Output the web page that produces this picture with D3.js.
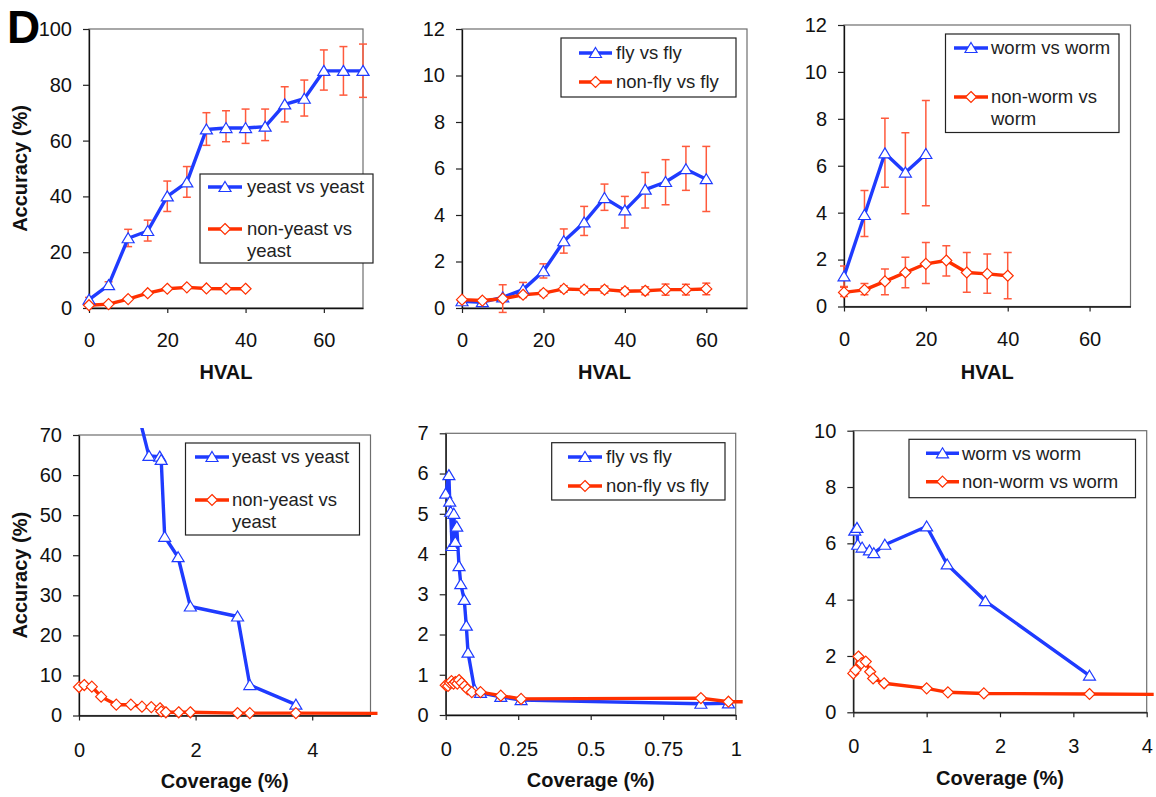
<!DOCTYPE html>
<html>
<head>
<meta charset="utf-8">
<script src="https://cdn.jsdelivr.net/npm/d3@7"></script>
<style>
  body { margin: 0; background: #fff; }
  svg { display: block; font-family: Arial, "Liberation Sans", sans-serif; }
</style>
</head>
<body>
<div id="chart"></div>
<script>
// ---- data: accuracy vs HVAL ----
const hvalX = [0, 5, 10, 15, 20, 25, 30, 35, 40, 45, 50, 55, 60, 65, 70];

const yeastSelf   = [3, 8.2, 25, 27.6, 40, 45, 64, 64.5, 64.5, 65, 73, 75, 85, 85, 85];
const yeastSelfLo = [2.2, 7.4, 22, 24, 34.6, 39.7, 58.3, 59.6, 59, 60, 66.7, 68.8, 78.1, 76.3, 75.5];
const yeastSelfHi = [3.8, 9.4, 28.2, 31.5, 45.5, 50.7, 70, 70.7, 71.3, 71.3, 79.3, 81.7, 92.5, 93.7, 94.6];
const nonYeast    = [1, 1.4, 3.2, 5.3, 6.9, 7.4, 7, 6.9, 6.9];

const flySelf   = [0.29, 0.25, 0.46, 0.79, 1.58, 2.87, 3.68, 4.73, 4.2, 5.09, 5.42, 5.97, 5.54];
const flySelfLo = [0.2, 0.15, -0.19, 0.46, 1.29, 2.36, 3.12, 4.2, 3.44, 4.3, 4.44, 5.06, 4.15];
const flySelfHi = [0.38, 0.35, 1.0, 1.1, 1.9, 3.4, 4.37, 5.33, 4.8, 5.83, 6.38, 6.95, 6.95];
const nonFly    = [0.36, 0.32, 0.4, 0.57, 0.64, 0.82, 0.79, 0.79, 0.72, 0.74, 0.79, 0.79, 0.82];
const nonFlyLo  = [0.3, 0.27, 0.3, 0.45, 0.52, 0.68, 0.65, 0.64, 0.58, 0.57, 0.55, 0.56, 0.57];
const nonFlyHi  = [0.42, 0.37, 0.5, 0.69, 0.76, 0.96, 0.93, 0.94, 0.86, 0.91, 1.03, 1.02, 1.07];

const wormSelf    = [1.28, 3.9, 6.53, 5.71, 6.5];
const wormSelfLo  = [0.85, 2.98, 5.08, 3.95, 4.29];
const wormSelfHi  = [1.73, 4.94, 8.02, 7.41, 8.78];
const nonWorm     = [0.6, 0.71, 1.07, 1.45, 1.82, 1.96, 1.45, 1.39, 1.31];
const nonWormLo   = [0.43, 0.5, 0.5, 0.8, 0.98, 1.3, 0.61, 0.57, 0.33];
const nonWormHi   = [0.82, 0.98, 1.6, 2.1, 2.73, 2.59, 2.3, 2.24, 2.3];

// ---- data: accuracy vs coverage ----
const yeastCovX   = [0.8, 0.9, 1.2, 1.385, 1.41, 1.47, 1.70, 1.91, 2.72, 2.93, 3.72];
const yeastCovY   = [85, 82, 64.8, 64.6, 63.8, 44.6, 39.5, 27.2, 24.7, 7.6, 2.7];
const nonYeastCovX = [0, 0.09, 0.22, 0.38, 0.64, 0.89, 1.08, 1.24, 1.39, 1.41, 1.49, 1.71, 1.91, 2.72, 2.93, 3.72, 6];
const nonYeastCovY = [7.1, 7.6, 7.2, 4.7, 2.7, 2.7, 2.2, 2.1, 1.8, 1.0, 0.8, 0.8, 0.8, 0.6, 0.6, 0.6, 0.5];

const flyCovX   = [0.0, 0.011, 0.014, 0.017, 0.022, 0.028, 0.033, 0.038, 0.046, 0.052, 0.064, 0.071, 0.077, 0.1, 0.12, 0.19, 0.26, 0.88, 0.975];
const flyCovY   = [5.5, 5.96, 5.3, 5.05, 4.2, 5.0, 4.3, 4.68, 3.7, 3.25, 2.86, 2.22, 1.55, 0.62, 0.55, 0.45, 0.37, 0.28, 0.29];
const nonFlyCovX = [0.0, 0.008, 0.015, 0.02, 0.027, 0.033, 0.04, 0.046, 0.055, 0.065, 0.075, 0.09, 0.12, 0.19, 0.26, 0.88, 0.975, 1.2];
const nonFlyCovY = [0.74, 0.72, 0.8, 0.84, 0.78, 0.82, 0.78, 0.87, 0.8, 0.72, 0.64, 0.57, 0.57, 0.48, 0.4, 0.42, 0.33, 0.32];

const wormCovX   = [0.02, 0.05, 0.06, 0.12, 0.22, 0.28, 0.43, 1.0, 1.28, 1.8, 3.22];
const wormCovY   = [6.45, 6.55, 5.95, 5.85, 5.75, 5.65, 5.95, 6.6, 5.25, 3.95, 1.3];
const nonWormCovX = [0, 0.03, 0.07, 0.11, 0.17, 0.23, 0.27, 0.42, 1.0, 1.29, 1.78, 3.22, 4.6];
const nonWormCovY = [1.38, 1.5, 1.98, 1.74, 1.8, 1.44, 1.2, 1.03, 0.85, 0.71, 0.67, 0.65, 0.63];

// ---- style ----
const BLUE = "#1f3bff";
const RED = "#ff3000";
const ERR = "#ff5a3c";

const W = 1156, H = 797;
const svg = d3.select("#chart").append("svg")
  .attr("width", W).attr("height", H)
  .attr("viewBox", `0 0 ${W} ${H}`);

const zip = (xs, ys, lo, hi) => xs.slice(0, ys.length).map((x, i) => ({
  x, y: ys[i], lo: lo ? lo[i] : null, hi: hi ? hi[i] : null
}));

const triPath = "M0,-5.5L6,4.5L-6,4.5Z";
const diaPath = "M0,-5.5L5.5,0L0,5.5L-5.5,0Z";

const panels = [
  { box: [89, 363, 29, 308], xd: [0, 70], xt: [0, 20, 40, 60], yd: [0, 100], yt: d3.range(0, 101, 20),
    yTitle: true, xTitle: "HVAL", xLabelOff: 25, xTitleY: 379,
    series: [zip(hvalX, yeastSelf, yeastSelfLo, yeastSelfHi), zip(hvalX, nonYeast)],
    legend: { box: [200, 373, 174, 263], lx: [208, 242], tx: 247,
      items: [{ y: 187, lines: ["yeast vs yeast"] }, { y: 229, lines: ["non-yeast vs", "yeast"] }] } },
  { box: [462, 747, 29, 308], xd: [0, 70], xt: [0, 20, 40, 60], yd: [0, 12], yt: d3.range(0, 13, 2),
    xTitle: "HVAL", xLabelOff: 25, xTitleY: 379,
    series: [zip(hvalX, flySelf, flySelfLo, flySelfHi), zip(hvalX, nonFly, nonFlyLo, nonFlyHi)],
    legend: { box: [561, 736, 38, 97], lx: [579, 612], tx: 616,
      items: [{ y: 53, lines: ["fly vs fly"] }, { y: 82, lines: ["non-fly vs fly"] }] } },
  { box: [844, 1130.5, 25, 306.5], xd: [0, 70], xt: [0, 20, 40, 60], yd: [0, 12], yt: d3.range(0, 13, 2),
    xTitle: "HVAL", xLabelOff: 25, xTitleY: 379,
    series: [zip(hvalX, wormSelf, wormSelfLo, wormSelfHi), zip(hvalX, nonWorm, nonWormLo, nonWormHi)],
    legend: { box: [945.5, 1119, 34, 132.5], lx: [954, 988], tx: 991,
      items: [{ y: 48, lines: ["worm vs worm"] }, { y: 97, lines: ["non-worm vs", "worm"] }] } },
  { box: [79, 370.5, 435, 715.5], xd: [0, 5], xt: [0, 2, 4], yd: [0, 70], yt: d3.range(0, 71, 10),
    yTitle: true, xTitle: "Coverage (%)", xLabelOff: 27, xTitleY: 788,
    series: [zip(yeastCovX, yeastCovY), zip(nonYeastCovX, nonYeastCovY)],
    legend: { box: [185.5, 359.5, 443, 535], lx: [195, 229], tx: 232,
      items: [{ y: 457, lines: ["yeast vs yeast"] }, { y: 500, lines: ["non-yeast vs", "yeast"] }] } },
  { box: [445.7, 735.7, 433.3, 715], xd: [0, 1], xt: [0, 0.25, 0.5, 0.75, 1], yd: [0, 7], yt: d3.range(0, 8, 1),
    xTitle: "Coverage (%)", xLabelOff: 27, xTitleY: 787,
    series: [zip(flyCovX, flyCovY), zip(nonFlyCovX, nonFlyCovY)],
    legend: { box: [551.7, 725, 442.7, 500], lx: [568, 602], tx: 606,
      items: [{ y: 457, lines: ["fly vs fly"] }, { y: 486, lines: ["non-fly vs fly"] }] } },
  { box: [853.3, 1146.7, 430.7, 712.3], xd: [0, 4], xt: [0, 1, 2, 3, 4], yd: [0, 10], yt: d3.range(0, 11, 2),
    xTitle: "Coverage (%)", xLabelOff: 27, xTitleY: 785,
    series: [zip(wormCovX, wormCovY), zip(nonWormCovX, nonWormCovY)],
    legend: { box: [909, 1135.5, 439.3, 497.7], lx: [926, 959], tx: 962,
      items: [{ y: 453.3, lines: ["worm vs worm"] }, { y: 481.7, lines: ["non-worm vs worm"] }] } }
];

const colors = [BLUE, RED];
const shapes = [triPath, diaPath];

panels.forEach((p, pi) => {
  const [l, r, t, b] = p.box;
  const x = d3.scaleLinear().domain(p.xd).range([l, r]);
  const y = d3.scaleLinear().domain(p.yd).range([b, t]);
  const g = svg.append("g");

  // frame
  g.append("rect").attr("x", l).attr("y", t).attr("width", r - l).attr("height", b - t)
    .attr("fill", "none").attr("stroke", "#6e6e6e").attr("stroke-width", 1.2);

  // axes
  const yAxis = g.append("g").attr("transform", `translate(${l},0)`)
    .call(d3.axisLeft(y).tickValues(p.yt).tickSize(6).tickSizeOuter(0).tickPadding(11).tickFormat(d => String(d)));
  const xAxis = g.append("g").attr("transform", `translate(0,${b})`)
    .call(d3.axisBottom(x).tickValues(p.xt).tickSize(5).tickSizeOuter(0).tickPadding(p.xLabelOff - 5).tickFormat(d => String(d)));
  [yAxis, xAxis].forEach(a => {
    a.selectAll("text").style("font-size", "20px").attr("fill", "#111").style("font-family", "Arial, 'Liberation Sans', sans-serif");
    a.selectAll("line").attr("stroke", "#222").attr("stroke-width", 1.2);
    a.select(".domain").attr("stroke", "#111").attr("stroke-width", 1.3);
  });

  // titles
  g.append("text").attr("x", (l + r) / 2).attr("y", p.xTitleY).attr("text-anchor", "middle")
    .style("font-size", "20px").style("font-weight", "bold").attr("fill", "#111").text(p.xTitle);
  if (p.yTitle) {
    g.append("text").attr("transform", `translate(27,${(t + b) / 2}) rotate(-90)`)
      .attr("text-anchor", "middle").style("font-size", "20px").style("font-weight", "bold")
      .attr("fill", "#111").text("Accuracy (%)");
  }

  // clip a bit outside plot area (lines run past the frame like the original)
  const clipId = "clip" + pi;
  svg.append("clipPath").attr("id", clipId).append("rect")
    .attr("x", l - 7).attr("y", t - 7).attr("width", r - l + 14).attr("height", b - t + 14);
  const plot = g.append("g").attr("clip-path", `url(#${clipId})`);

  // error bars
  p.series.forEach(s => {
    const eb = s.filter(d => d.lo != null);
    const ge = plot.append("g").attr("stroke", ERR).attr("stroke-width", 1.5);
    ge.selectAll("line.v").data(eb).join("line").attr("class", "v")
      .attr("x1", d => x(d.x)).attr("x2", d => x(d.x)).attr("y1", d => y(d.lo)).attr("y2", d => y(d.hi));
    ge.selectAll("line.hi").data(eb).join("line").attr("class", "hi")
      .attr("x1", d => x(d.x) - 4).attr("x2", d => x(d.x) + 4).attr("y1", d => y(d.hi)).attr("y2", d => y(d.hi));
    ge.selectAll("line.lo").data(eb).join("line").attr("class", "lo")
      .attr("x1", d => x(d.x) - 4).attr("x2", d => x(d.x) + 4).attr("y1", d => y(d.lo)).attr("y2", d => y(d.lo));
  });

  // lines
  const line = d3.line().x(d => x(d.x)).y(d => y(d.y));
  p.series.forEach((s, si) => {
    plot.append("path").datum(s).attr("d", line).attr("fill", "none")
      .attr("stroke", colors[si]).attr("stroke-width", 3.4).attr("stroke-linejoin", "round");
  });

  // markers
  p.series.forEach((s, si) => {
    plot.selectAll(null).data(s).join("path")
      .attr("d", shapes[si]).attr("transform", d => `translate(${x(d.x)},${y(d.y)})`)
      .attr("fill", "#fff").attr("stroke", colors[si]).attr("stroke-width", 1.2);
  });

  // legend
  const L = p.legend;
  const lg = g.append("g");
  lg.append("rect").attr("x", L.box[0]).attr("y", L.box[2])
    .attr("width", L.box[1] - L.box[0]).attr("height", L.box[3] - L.box[2])
    .attr("fill", "#fff").attr("stroke", "#222").attr("stroke-width", 1.2);
  L.items.forEach((it, si) => {
    lg.append("line").attr("x1", L.lx[0]).attr("x2", L.lx[1]).attr("y1", it.y).attr("y2", it.y)
      .attr("stroke", colors[si]).attr("stroke-width", 3.4);
    lg.append("path").attr("d", shapes[si])
      .attr("transform", `translate(${(L.lx[0] + L.lx[1]) / 2},${it.y})`)
      .attr("fill", "#fff").attr("stroke", colors[si]).attr("stroke-width", 1.2);
    it.lines.forEach((txt, k) => {
      lg.append("text").attr("x", L.tx).attr("y", it.y + k * 21.5).attr("dy", "0.35em")
        .style("font-size", "18.5px").attr("fill", "#222").text(txt);
    });
  });
});

// panel letter
svg.append("text").attr("x", 7).attr("y", 43).style("font-size", "46px")
  .style("font-weight", "bold").attr("fill", "#000").text("D");
</script>
</body>
</html>
